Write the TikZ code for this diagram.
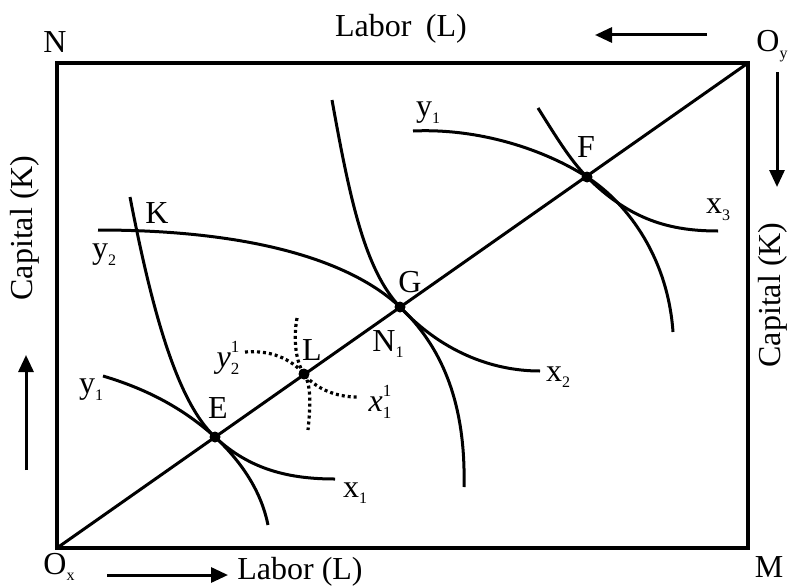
\documentclass[tikz,border=0pt]{standalone}
\usepackage{fontspec}
\setmainfont{Liberation Serif}
\usetikzlibrary{arrows.meta}
\newcommand{\lsub}[1]{\raisebox{-0.45ex}{\fontsize{16}{16}\selectfont #1}}
\newcommand{\lsupsub}[2]{\rlap{\raisebox{1.0ex}{\fontsize{17}{17}\selectfont #1}}\raisebox{-0.5ex}{\fontsize{17}{17}\selectfont #2}}

\begin{document}
\begin{tikzpicture}[x=1pt,y=-1pt,
  lbl/.style={inner sep=0pt, font=\fontsize{32}{36}\selectfont},
  curve/.style={line width=3pt},
  dotcurve/.style={line width=3.2pt, dash pattern=on 3pt off 3pt},
  bigarrow/.style={line width=3pt, -{Triangle[length=17pt,width=15pt]}}]
  \useasboundingbox (0,0) rectangle (791,586);
  % Box corners and the contract curve points.
  \coordinate (Ox) at (57,548);
  \coordinate (Oy) at (748,63);
  \coordinate (N) at (57,63);
  \coordinate (M) at (748,548);
  \coordinate (E) at (215,437);
  \coordinate (L) at (304,374);
  \coordinate (G) at (400,307);
  \coordinate (F) at (587,177);
  % Edgeworth box and contract curve.
  \draw[line width=3.4pt] (N) -- (Oy) -- (M) -- (Ox) -- cycle;
  \draw[curve] (Ox) -- (Oy);
  % Isoquants through E.
  \draw[curve] (130,197) .. controls (150,300) and (175,400) .. (E)
    .. controls (250,470) and (290,479) .. (335,479);
  \draw[curve] (103,376) .. controls (150,390) and (185,410) .. (E)
    .. controls (245,465) and (262,495) .. (268,525);
  % Isoquants through G.
  \draw[curve] (98,230) .. controls (250,230) and (350,260) .. (G)
    .. controls (440,345) and (466,400) .. (464,487);
  \draw[curve] (332,100) .. controls (350,200) and (365,270) .. (G)
    .. controls (440,350) and (490,371) .. (540,371);
  % Isoquants through F.
  \draw[curve] (413,131) .. controls (480,128) and (545,150) .. (F)
    .. controls (630,205) and (668,260) .. (673,332);
  \draw[curve] (538,108) .. controls (555,135) and (570,160) .. (F)
    .. controls (630,220) and (670,231) .. (718,231);
  % Dotted isoquants through L.
  \draw[dotcurve] (245,352) .. controls (270,350) and (290,358) .. (L)
    .. controls (312,385) and (310,410) .. (308,430);
  \draw[dotcurve] (297,318) .. controls (293,340) and (296,362) .. (L)
    .. controls (315,388) and (335,397) .. (357,397);
  % Points on the contract curve.
  \foreach \p in {E,L,G,F}
    \fill (\p) circle (5.5);
  % Direction arrows.
  \coordinate (arTs) at (707,35); \coordinate (arTe) at (595,35);
  \coordinate (arRs) at (777,72); \coordinate (arRe) at (777,187);
  \coordinate (arLs) at (26,470); \coordinate (arLe) at (26,355);
  \coordinate (arBs) at (107,575); \coordinate (arBe) at (228,575);
  \draw[bigarrow] (arTs) -- (arTe);
  \draw[bigarrow] (arRs) -- (arRe);
  \draw[bigarrow] (arLs) -- (arLe);
  \draw[bigarrow] (arBs) -- (arBe);
  % Labels.
  \node[lbl] (lN) at (55,42) {N};
  \node[lbl] (lLabT) at (401,29) {Labor\hspace{0.2em} (L)};
  \node[lbl] (lOy) at (772,46) {O\lsub{y}};
  \node[lbl] (lM) at (769,567) {M};
  \node[lbl] (lOx) at (59,567) {O\lsub{x}};
  \node[lbl] (lLabB) at (300,572) {Labor (L)};
  \node[lbl, rotate=90] (lCapL) at (25,228) {Capital (K)};
  \node[lbl, rotate=90] (lCapR) at (773,295) {Capital (K)};
  \node[lbl] (lK) at (157,213) {K};
  \node[lbl] (lE) at (218,408) {E};
  \node[lbl] (lL) at (312,350) {L};
  \node[lbl] (lG) at (410,282) {G};
  \node[lbl] (lN1) at (388,344) {N\lsub{1}};
  \node[lbl] (lF) at (586,147) {F};
  \node[lbl] (ly1t) at (428,113) {y\lsub{1}};
  \node[lbl] (ly2) at (104,255) {y\lsub{2}};
  \node[lbl] (ly1b) at (91,390) {y\lsub{1}};
  \node[lbl] (lx3) at (718,210) {x\lsub{3}};
  \node[lbl] (lx2) at (558,377) {x\lsub{2}};
  \node[lbl] (lx1) at (355,493) {x\lsub{1}};
  \node[lbl] (ly21) at (228,358) {\textit{y}\lsupsub{1}{2}};
  \node[lbl] (lx11) at (380,402) {\textit{x}\lsupsub{1}{1}};
\end{tikzpicture}
\end{document}
